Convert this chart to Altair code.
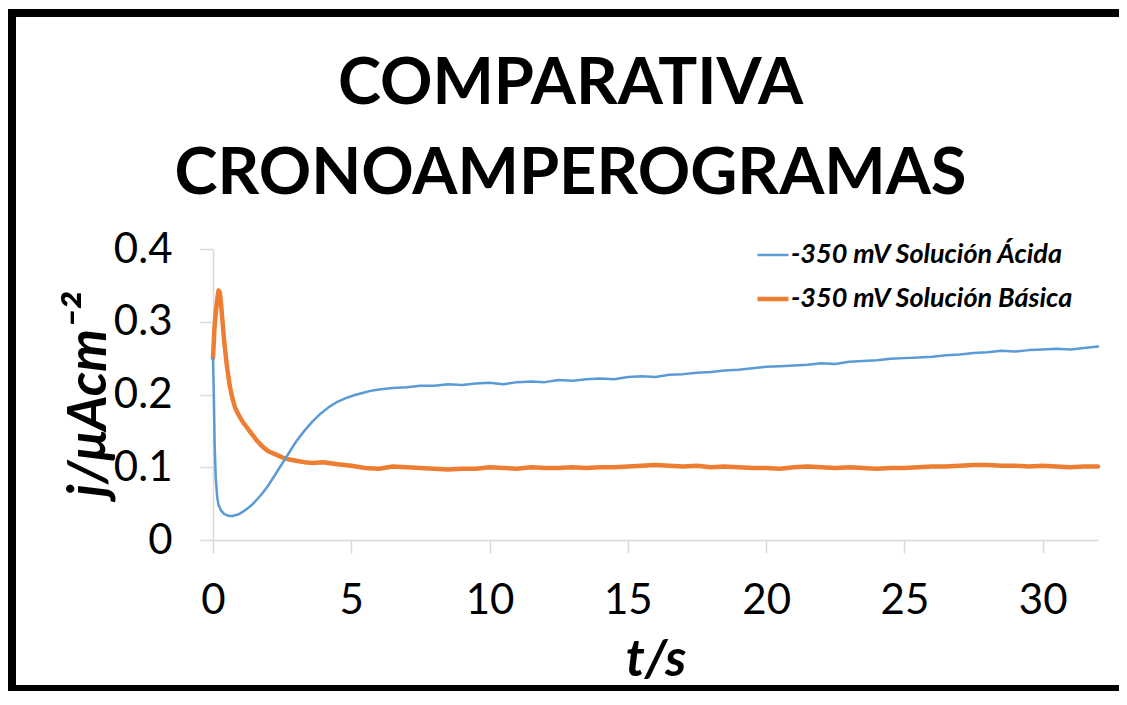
import altair as alt
import pandas as pd

# ---- data ----
serie_names = ["-350 mV Solución Ácida", "-350 mV Solución Básica"]
serie_colors = ["#5B9BD5", "#ED7D31"]
serie_widths = [2.5, 4.5]

t_acida = [0, 0.03, 0.06, 0.1, 0.15, 0.2, 0.3, 0.4, 0.5, 0.6, 0.7, 0.8, 0.9, 1.0,
           1.2, 1.4, 1.6, 1.8, 2.0, 2.2, 2.4, 2.6, 2.8, 3.0, 3.3, 3.6, 3.9, 4.2,
           4.5, 4.8, 5.1, 5.4, 5.7, 6.0, 6.5, 7.0, 7.5,
           8.0, 8.5, 9.0, 9.5, 10.0, 10.5, 11.0, 11.5, 12.0, 12.5, 13.0, 13.5,
           14.0, 14.5, 15.0, 15.5, 16.0, 16.5, 17.0, 17.5, 18.0, 18.5, 19.0, 19.5,
           20.0, 20.5, 21.0, 21.5, 22.0, 22.5, 23.0, 23.5, 24.0, 24.5, 25.0, 25.5,
           26.0, 26.5, 27.0, 27.5, 28.0, 28.5, 29.0, 29.5, 30.0, 30.5, 31.0, 31.5, 32.0]
j_acida = [0.250, 0.200, 0.130, 0.085, 0.060, 0.048, 0.040, 0.036, 0.034, 0.033, 0.033, 0.034, 0.035, 0.037,
           0.042, 0.048, 0.056, 0.065, 0.075, 0.087, 0.099, 0.111, 0.123, 0.135, 0.150, 0.163, 0.174, 0.183,
           0.190, 0.195, 0.199, 0.202, 0.205, 0.207, 0.209, 0.210, 0.212,
           0.212, 0.214, 0.213, 0.215, 0.216, 0.214, 0.217, 0.218, 0.217, 0.220, 0.219, 0.221,
           0.222, 0.221, 0.224, 0.225, 0.224, 0.227, 0.228, 0.230, 0.231, 0.233, 0.234, 0.236,
           0.238, 0.239, 0.240, 0.241, 0.243, 0.242, 0.245, 0.246, 0.247, 0.249, 0.250, 0.251,
           0.252, 0.254, 0.255, 0.257, 0.258, 0.260, 0.259, 0.261, 0.262, 0.263, 0.262, 0.264, 0.266]

t_basica = [0, 0.05, 0.1, 0.15, 0.2, 0.25, 0.3, 0.4, 0.5, 0.6, 0.7, 0.8, 0.9, 1.0,
            1.1, 1.2, 1.4, 1.6, 1.8, 2.0, 2.3, 2.6, 3.0, 3.3, 3.6, 4.0, 4.5, 5.0,
            5.5, 6.0, 6.5, 7.0, 7.5, 8.0, 8.5, 9.0, 9.5, 10.0, 10.5, 11.0, 11.5,
            12.0, 12.5, 13.0, 13.5, 14.0, 14.5, 15.0, 15.5, 16.0, 16.5, 17.0, 17.5,
            18.0, 18.5, 19.0, 19.5, 20.0, 20.5, 21.0, 21.5, 22.0, 22.5, 23.0, 23.5,
            24.0, 24.5, 25.0, 25.5, 26.0, 26.5, 27.0, 27.5, 28.0, 28.5, 29.0, 29.5,
            30.0, 30.5, 31.0, 31.5, 32.0]
j_basica = [0.250, 0.290, 0.312, 0.330, 0.343, 0.340, 0.320, 0.275, 0.240, 0.213, 0.195, 0.182, 0.174, 0.167,
            0.161, 0.156, 0.146, 0.136, 0.128, 0.122, 0.117, 0.112, 0.109, 0.107, 0.106, 0.107, 0.104, 0.102,
            0.099, 0.098, 0.101, 0.100, 0.099, 0.098, 0.097, 0.098, 0.098, 0.100, 0.099, 0.098, 0.100,
            0.099, 0.099, 0.100, 0.099, 0.100, 0.100, 0.101, 0.102, 0.103, 0.102, 0.101, 0.102,
            0.100, 0.101, 0.100, 0.099, 0.099, 0.098, 0.100, 0.101, 0.100, 0.099, 0.100, 0.099,
            0.098, 0.099, 0.099, 0.100, 0.101, 0.101, 0.102, 0.103, 0.103, 0.102, 0.102, 0.101,
            0.102, 0.101, 0.100, 0.101, 0.101]

x_ticks = [0, 5, 10, 15, 20, 25, 30]
y_ticks = [0, 0.1, 0.2, 0.3, 0.4]

df = pd.concat([
    pd.DataFrame({"t": t_basica, "j": j_basica, "serie": serie_names[1], "orden": 0}),
    pd.DataFrame({"t": t_acida, "j": j_acida, "serie": serie_names[0], "orden": 1}),
], ignore_index=True)

FONT = "Lato"
GRAY = "#D9D9D9"

lines = alt.Chart(df).mark_line(strokeJoin="round", strokeCap="round").encode(
    x=alt.X("t:Q",
            scale=alt.Scale(domain=[0, 32], nice=False, zero=False),
            axis=alt.Axis(values=x_ticks, title="t/s", grid=False,
                          domainColor=GRAY, domainWidth=1.5, tickColor=GRAY, tickWidth=1.5,
                          tickSize=13, labelFont=FONT, labelFontSize=42, labelColor="black",
                          labelPadding=27, labelFlush=False,
                          titleFont=FONT, titleFontSize=52, titleFontStyle="italic",
                          titleFontWeight="bold", titleColor="black",
                          titleX=442.5, titleY=135, titleBaseline="alphabetic",
                          titleAlign="center")),
    y=alt.Y("j:Q",
            scale=alt.Scale(domain=[0, 0.4], nice=False),
            axis=alt.Axis(values=y_ticks, title="j/μAcm⁻²", grid=False,
                          labelExpr="datum.value == 0 ? '0' : format(datum.value, '.1f')",
                          domainColor=GRAY, domainWidth=1.5, tickColor=GRAY, tickWidth=1.5,
                          tickSize=13, labelFont=FONT, labelFontSize=42, labelColor="black",
                          labelPadding=28, labelFlush=False,
                          titleFont=FONT, titleFontSize=54, titleFontStyle="italic",
                          titleFontWeight="bold", titleColor="black", titleAngle=270,
                          titleX=-108, titleY=145.5, titleBaseline="alphabetic",
                          titleAlign="center")),
    color=alt.Color("serie:N",
                    scale=alt.Scale(domain=serie_names, range=serie_colors),
                    legend=alt.Legend(title=None)),
    strokeWidth=alt.StrokeWidth("serie:N",
                                scale=alt.Scale(domain=serie_names, range=serie_widths),
                                legend=alt.Legend(title=None)),
    order=alt.Order("orden:Q"),
)

# decorative black frame (top, left, bottom edges) as filled rects in pixel space
one = pd.DataFrame({"k": [0]})
frame_top = alt.Chart(one).mark_rect(color="black").encode(
    x=alt.value(-205), x2=alt.value(906), y=alt.value(-240), y2=alt.value(-232))
frame_left = alt.Chart(one).mark_rect(color="black").encode(
    x=alt.value(-205), x2=alt.value(-197), y=alt.value(-240), y2=alt.value(442))
frame_bottom = alt.Chart(one).mark_rect(color="black").encode(
    x=alt.value(-205), x2=alt.value(906), y=alt.value(436), y2=alt.value(442))

chart = alt.layer(frame_top, frame_left, frame_bottom, lines).properties(
    width=885, height=291,
    padding={"left": 205, "top": 241, "right": 21, "bottom": 151},
    autosize=alt.AutoSizeParams(type="none"),
    background="white",
    title=alt.Title(["COMPARATIVA", "CRONOAMPEROGRAMAS"], font=FONT, fontSize=65,
                    fontWeight="bold", color="black", lineHeight=90,
                    anchor="middle", frame="bounds", offset=-199, dx=7),
).configure_view(strokeWidth=0).configure_legend(
    orient="none", legendX=542, legendY=-11, padding=0,
    labelFont=FONT, labelFontSize=27, labelFontStyle="italic", labelFontWeight="bold",
    labelColor="black", labelOffset=0, symbolType="stroke", symbolSize=961,
    rowPadding=13, labelLimit=400,
)

chart.save("out.html", embed_options={"renderer": "svg", "actions": False})
